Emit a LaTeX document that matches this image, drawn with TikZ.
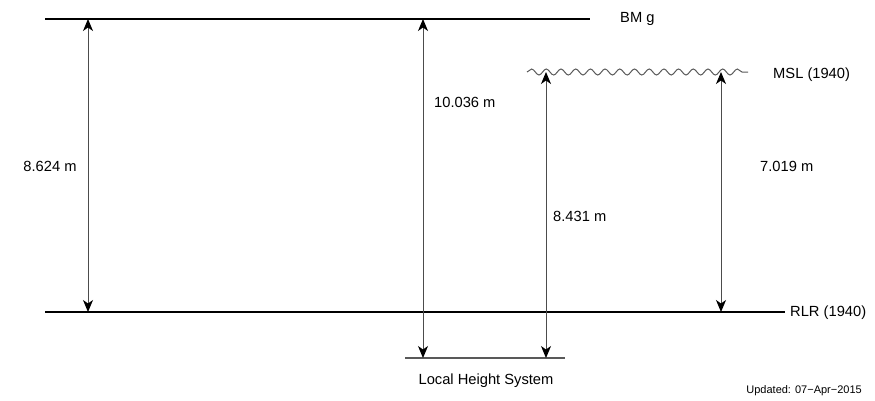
\documentclass[tikz,border=0pt]{standalone}
\usepackage{fontspec}
\setmainfont{Liberation Sans}
\usetikzlibrary{arrows.meta,decorations.pathmorphing}

\tikzset{
  datum/.style={line width=2.6pt,black},
  levarrow/.style={{Stealth[length=12pt,width=10pt,inset=3.5pt,black]}-{Stealth[length=12pt,width=10pt,inset=3.5pt,black]},line width=1pt,black!70},
  lbl/.style={font=\fontsize{14.7}{17}\selectfont,inner sep=0pt}
}

\begin{document}
\begin{tikzpicture}[x=1pt,y=-1pt]
\useasboundingbox (0,0) rectangle (875,400);
% datum lines
\coordinate (bmL) at (45,19);   \coordinate (bmR) at (590,19);
\coordinate (rlrL) at (45,312); \coordinate (rlrR) at (785,312);
\coordinate (mslL) at (527,72); \coordinate (mslR) at (748,72);
\coordinate (lhsL) at (405,358); \coordinate (lhsR) at (565,358);
\draw[datum] (bmL) -- (bmR);
\draw[datum] (rlrL) -- (rlrR);
\draw[black!65,line width=1pt,decorate,decoration={snake,segment length=14.7pt,amplitude=3pt}] (mslL) -- (mslR);
\draw[black!65,line width=2pt] (lhsL) -- (lhsR);
\node[lbl,anchor=west] (bm) at (620,19) {BM g};
\node[lbl,anchor=west] (rlr) at (790,313) {RLR (1940)};
\node[lbl,anchor=west] (msl) at (773,75) {MSL (1940)};
\node[lbl] (lhs) at (486,381) {Local Height System};
\node[font=\fontsize{11}{13}\selectfont,inner sep=0pt,anchor=east] (upd) at (862,391) {Updated: 07−Apr−2015};
% arrow end points
\foreach \n/\x/\ya/\yb in {a/88/19/312,b/423/19/358,c/546/72/358,d/721/72/312}{
  \coordinate (\n top) at (\x,\ya);
  \coordinate (\n bot) at (\x,\yb);
}
\draw[levarrow] (atop) -- (abot);
\draw[levarrow] (btop) -- (bbot);
\draw[levarrow] (ctop) -- (cbot);
\draw[levarrow] (dtop) -- (dbot);
% heights
\node[lbl] (ha) at (50,166) {8.624 m};
\node[lbl,anchor=west] (hb) at (434,102) {10.036 m};
\node[lbl,anchor=west] (hc) at (553,216) {8.431 m};
\node[lbl,anchor=west] (hd) at (760,166) {7.019 m};
\end{tikzpicture}
\end{document}
